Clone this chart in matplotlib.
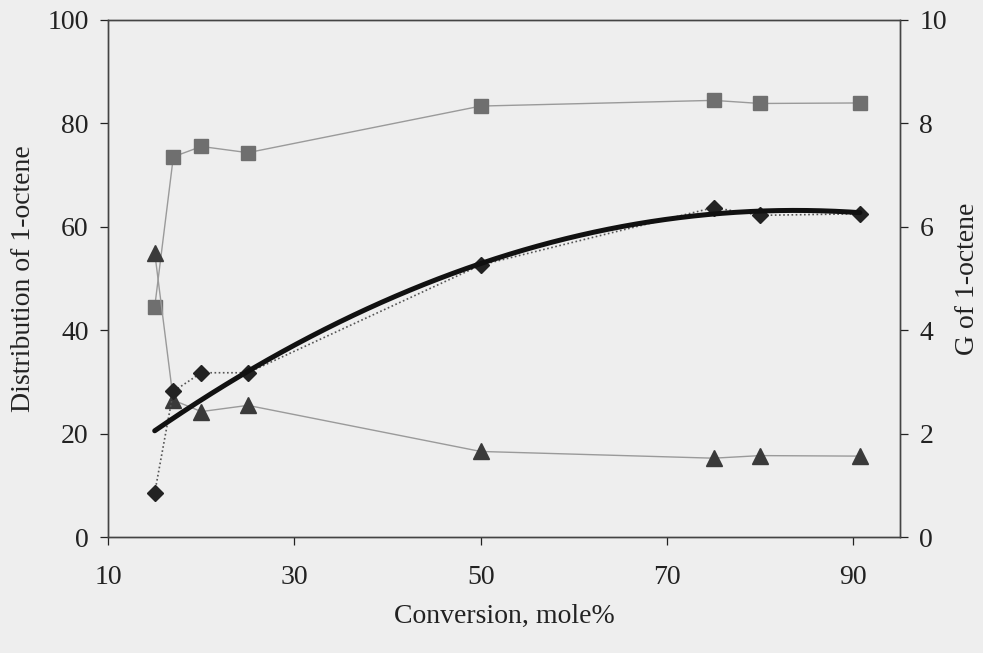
import numpy as np
import matplotlib
matplotlib.use("Agg")
import matplotlib.pyplot as plt

plt.rcParams['font.family'] = ['Liberation Serif', 'DejaVu Serif']

conversion = [15, 17, 20, 25, 50, 75, 80, 90.7]
dist_square = [44.5, 73.5, 75.5, 74.3, 83.3, 84.4, 83.8, 83.9]
dist_triangle = [55.0, 26.5, 24.3, 25.5, 16.6, 15.3, 15.8, 15.7]
g_diamond = [0.86, 2.82, 3.18, 3.18, 5.26, 6.37, 6.22, 6.25]

x_ticks = [10, 30, 50, 70, 90]
left_ticks = [0, 20, 40, 60, 80, 100]
right_ticks = [0, 2, 4, 6, 8, 10]

bg = '#eeeeee'
fig = plt.figure(figsize=(9.83, 6.53), dpi=100, facecolor=bg)
ax = fig.add_axes([0.11, 0.177, 0.8055, 0.793])
ax.set_facecolor(bg)
ax2 = ax.twinx()

ax.plot(conversion, dist_square, color='#9a9a9a', lw=1.0, marker='s', ms=10,
        mfc='#6f6f6f', mec='#6f6f6f', zorder=3)
ax.plot(conversion, dist_triangle, color='#9a9a9a', lw=1.0, marker='^', ms=11,
        mfc='#3a3a3a', mec='#3a3a3a', zorder=3)

ax2.plot(conversion, g_diamond, color='#555555', lw=1.2, ls=(0, (1, 1.5)),
         marker='D', ms=8, mfc='#222222', mec='#222222', zorder=3)

# polynomial trendline (order 2, intercept fixed at 0) fitted to the G data
xc = np.asarray(conversion, dtype=float)
A = np.column_stack([xc, xc ** 2])
coef, *_ = np.linalg.lstsq(A, np.asarray(g_diamond), rcond=None)
xs = np.linspace(xc.min(), xc.max(), 200)
ax2.plot(xs, coef[0] * xs + coef[1] * xs ** 2, color='#111111', lw=3.6,
         zorder=4, solid_capstyle='round')

ax.set_xlim(10, 95)
ax.set_ylim(0, 100)
ax2.set_ylim(0, 10)
ax.set_xticks(x_ticks)
ax.set_yticks(left_ticks)
ax2.set_yticks(right_ticks)

for a in (ax, ax2):
    for s in a.spines.values():
        s.set_color('#444444')
        s.set_linewidth(1.0)
    a.tick_params(labelsize=20, colors='#222222', length=6, width=0.9,
                  direction='out')
ax.tick_params(axis='x', pad=14)
ax.tick_params(axis='y', pad=8)
ax2.tick_params(axis='y', pad=8)

ax.set_xlabel('Conversion, mole%', fontsize=20, color='#222222', labelpad=10)
ax.set_ylabel('Distribution of 1-octene', fontsize=20, color='#222222', labelpad=8)
ax2.set_ylabel('G of 1-octene', fontsize=20, color='#222222', labelpad=6)

fig.savefig('out.png', dpi=100, facecolor=bg)
